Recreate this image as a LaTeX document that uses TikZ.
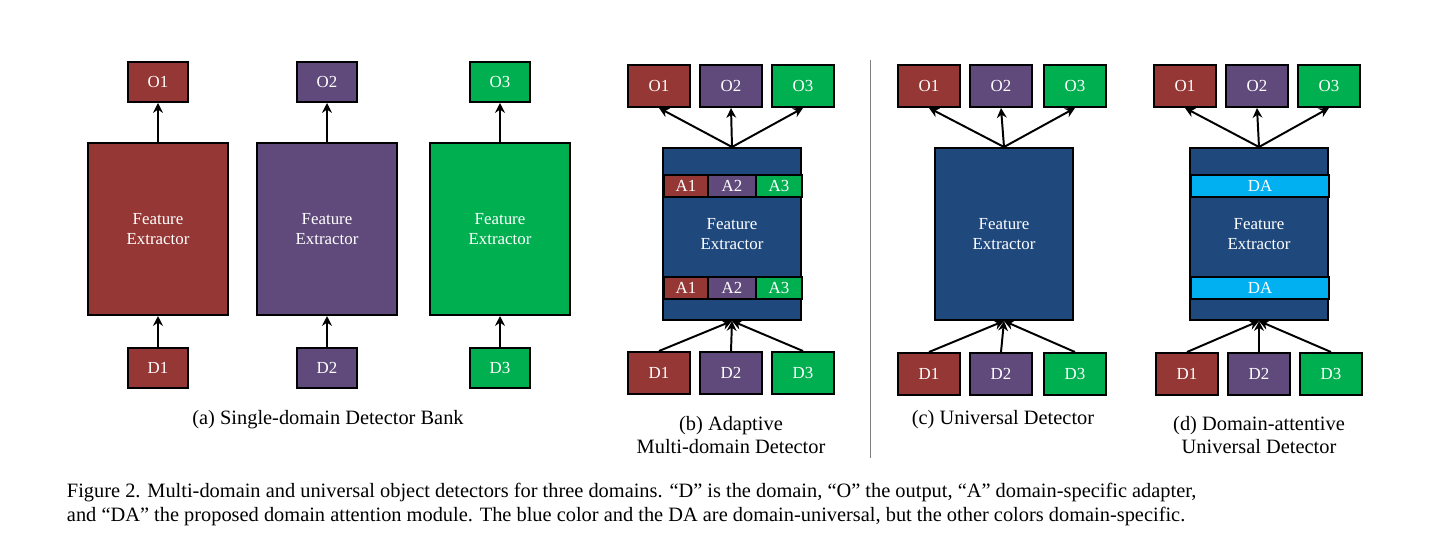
\documentclass[tikz,border=0pt]{standalone}
\usepackage{fontspec}
\setmainfont{Liberation Serif}
\usetikzlibrary{arrows.meta}
\definecolor{domred}{RGB}{149,55,53}
\definecolor{dompurple}{RGB}{96,74,123}
\definecolor{domgreen}{RGB}{0,176,80}
\definecolor{uniblue}{RGB}{31,73,125}
\definecolor{dacyan}{RGB}{0,176,240}
\tikzset{
  box/.style={draw=black, line width=1.4pt, text=white, inner sep=0pt,
    font=\fontsize{12}{14}\selectfont, minimum width=1.55cm, minimum height=1.05cm},
  feat/.style={box, minimum width=3.45cm, minimum height=4.3cm, align=center},
  strip/.style={box, minimum height=0.55cm, anchor=north west},
  link/.style={line width=1.4pt, -{Stealth[length=7pt,width=7pt]}},
  sublabel/.style={font=\fontsize{14.5}{17}\selectfont, align=center}
}
\begin{document}
\begin{tikzpicture}[x=0.025cm, y=-0.025cm]
  \useasboundingbox (0,0) rectangle (1432,546);

  %(a) single-domain detector bank
  \foreach \i/\cx/\col in {1/158/domred, 2/327/dompurple, 3/500/domgreen}{
    \node[box, fill=\col, minimum width=1.5cm, minimum height=1cm] (aO\i) at (\cx,82) {O\i};
    \node[feat, fill=\col, minimum width=3.5cm] (aF\i) at (\cx,229) {Feature\\Extractor};
    \node[box, fill=\col, minimum width=1.5cm, minimum height=1cm] (aD\i) at (\cx,368) {D\i};
    \draw[link] (aF\i.north) -- (aO\i.south);
    \draw[link] (aD\i.north) -- (aF\i.south);
  }
  \node[sublabel] (capa) at (328,420) {(a) Single-domain Detector Bank};

  %(b) adaptive multi-domain detector
  \node[feat, fill=uniblue] (bF) at (732,234) {Feature\\Extractor};
  \foreach \y in {174,276}{
    \node[strip, fill=domred, minimum width=1.1cm] (bA1\y) at (663,\y) {A1};
    \node[strip, fill=dompurple, minimum width=1.2cm] (bA2\y) at (707,\y) {A2};
    \node[strip, fill=domgreen, minimum width=1.15cm] (bA3\y) at (755,\y) {A3};
  }
  \foreach \i/\cx/\col in {1/659/domred, 2/731/dompurple, 3/803/domgreen}{
    \node[box, fill=\col] (bO\i) at (\cx,86) {O\i};
    \node[box, fill=\col] (bD\i) at (\cx,373) {D\i};
    \draw[link] (bF.north) -- (bO\i.south);
    \draw[link] (bD\i.north) -- (bF.south);
  }
  \node[sublabel] (capb) at (731,435) {(b) Adaptive\\Multi-domain Detector};

  %divider
  \coordinate (divtop) at (870,60);
  \coordinate (divbot) at (870,458);
  \draw[line width=0.6pt, gray] (divtop) -- (divbot);

  %(c) universal detector
  \node[feat, fill=uniblue] (cF) at (1004,234) {Feature\\Extractor};
  \foreach \i/\cx/\col in {1/929/domred, 2/1001/dompurple, 3/1075/domgreen}{
    \node[box, fill=\col] (cO\i) at (\cx,86) {O\i};
    \node[box, fill=\col] (cD\i) at (\cx,374) {D\i};
    \draw[link] (cF.north) -- (cO\i.south);
    \draw[link] (cD\i.north) -- (cF.south);
  }
  \node[sublabel] (capc) at (1003,420) {(c) Universal Detector};

  %(d) domain-attentive universal detector
  \node[feat, fill=uniblue] (dF) at (1259,234) {Feature\\Extractor};
  \node[strip, fill=dacyan, minimum width=3.45cm] (dDA1) at (1190,174) {DA};
  \node[strip, fill=dacyan, minimum width=3.45cm] (dDA2) at (1190,276) {DA};
  \foreach \i/\ox/\dx/\col in {1/1185/1187/domred, 2/1257/1259/dompurple, 3/1329/1331/domgreen}{
    \node[box, fill=\col] (dO\i) at (\ox,86) {O\i};
    \node[box, fill=\col] (dD\i) at (\dx,374) {D\i};
    \draw[link] (dF.north) -- (dO\i.south);
    \draw[link] (dD\i.north) -- (dF.south);
  }
  \node[sublabel] (capd) at (1259,435) {(d) Domain-attentive\\Universal Detector};

  %figure caption
  \node[sublabel, align=left, anchor=north west] (figcap) at (62,478)
    {Figure 2. Multi-domain and universal object detectors for three domains. ``D'' is the domain, ``O'' the output, ``A'' domain-specific adapter,\\
     and ``DA'' the proposed domain attention module. The blue color and the DA are domain-universal, but the other colors domain-specific.};
\end{tikzpicture}
\end{document}
